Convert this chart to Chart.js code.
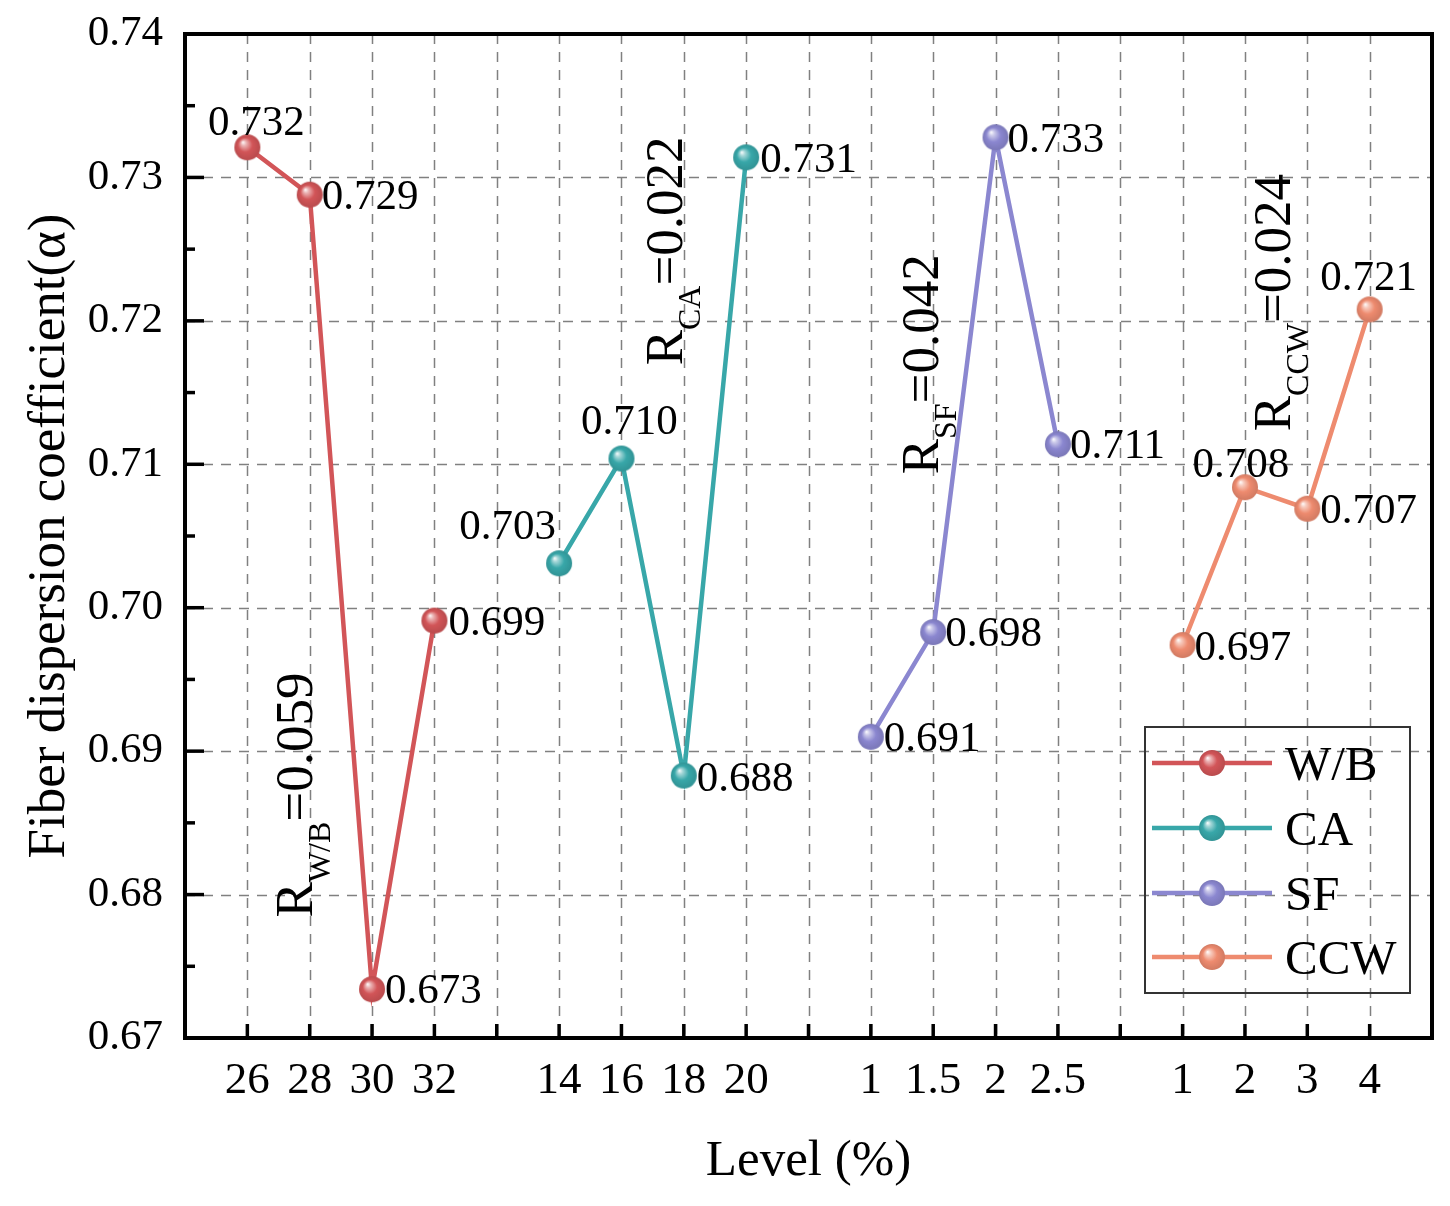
<!DOCTYPE html>
<html><head><meta charset="utf-8">
<script src="https://cdn.jsdelivr.net/npm/chart.js@4"></script>
<style>html,body{margin:0;padding:0;background:#fff}canvas{display:block}</style>
</head><body>
<canvas id="c" width="1450" height="1206"></canvas>
<script>
// ---------- data ----------
const tickLabels = ['26','28','30','32','','14','16','18','20','','1','1.5','2','2.5','','1','2','3','4'];
const seriesNames = ['W/B','CA','SF','CCW'];
const wbPositions  = [0,1,2,3];
const caPositions  = [5,6,7,8];
const sfPositions  = [10,11,12,13];
const ccwPositions = [15,16,17,18];
const wbValues  = [0.7321,0.7288,0.6734,0.6991];
const caValues  = [0.7031,0.7104,0.6883,0.7314];
const sfValues  = [0.6910,0.6983,0.7328,0.7114];
const ccwValues = [0.6974,0.7084,0.7069,0.7208];
const rangeSubs   = ['W/B','CA','SF','CCW'];
const rangeValues = ['0.059','0.022','0.042','0.024'];
const yTitle = 'Fiber dispersion coefficient(\u03b1)';
const xTitle = 'Level (%)';

// ---------- style ----------
const colors = ['#D25558','#38A7A9','#8B87D0','#EE8B6F'];
const FONT = '"Liberation Serif","Times New Roman",serif';
// label placement per point: [dx, dy, align]
const labelPlacement = [
  [[9,-12,'center'],[12,14,'left'],[13,14,'left'],[14,14,'left']],
  [[-3,-24,'right'],[8,-25,'center'],[13,15,'left'],[14,15,'left']],
  [[13,14,'left'],[12,14,'left'],[12,15,'left'],[12,14,'left']],
  [[12,15,'left'],[-4,-10,'center'],[13,14,'left'],[-1,-19,'center']]
];
// range annotation anchors (data coords: x index, y value at text start)
const rangeAnchors = [[1.037,0.6784],[6.971,0.7169],[11.077,0.7093],[16.723,0.7123]];

function hexToRgb(h){const n=parseInt(h.slice(1),16);return [n>>16&255,n>>8&255,n&255];}
function mix(c,t,f){return c.map((v,i)=>Math.round(v+(t[i]-v)*f));}
function rgb(a){return 'rgb('+a[0]+','+a[1]+','+a[2]+')';}
function makeSphere(hex,r){
  const s=Math.ceil(r*2+2);
  const cv=document.createElement('canvas');cv.width=s;cv.height=s;
  const g=cv.getContext('2d');const c=hexToRgb(hex);const cx=s/2,cy=s/2;
  const grad=g.createRadialGradient(cx-r*0.35,cy-r*0.4,0,cx,cy,r);
  grad.addColorStop(0,'#ffffff');
  grad.addColorStop(0.2,rgb(mix(c,[255,255,255],0.55)));
  grad.addColorStop(0.55,rgb(c));
  grad.addColorStop(1,rgb(mix(c,[0,0,0],0.12)));
  g.fillStyle=grad;g.beginPath();g.arc(cx,cy,r,0,Math.PI*2);g.fill();
  return cv;
}
const spheres = colors.map(c=>makeSphere(c,13));

const positions=[wbPositions,caPositions,sfPositions,ccwPositions];
const values=[wbValues,caValues,sfValues,ccwValues];
const datasets = seriesNames.map((name,i)=>({
  label:name,
  data: positions[i].map((x,j)=>({x:x,y:values[i][j]})),
  borderColor:colors[i], backgroundColor:colors[i], borderWidth:4.5,
  pointStyle:spheres[i], pointRadius:13, pointHoverRadius:13,
  tension:0, fill:false, clip:false
}));

const decor = {
  id:'decor',
  beforeDatasetsDraw(chart){
    const {ctx,chartArea:a,scales:{x,y}}=chart;
    ctx.save();
    ctx.strokeStyle='#808080';ctx.lineWidth=1.5;ctx.setLineDash([10,8]);
    for(let i=0;i<tickLabels.length;i++){
      const px=Math.round(x.getPixelForValue(i))+0.5;
      ctx.beginPath();ctx.moveTo(px,a.top);ctx.lineTo(px,a.bottom);ctx.stroke();
    }
    for(let k=1;k<7;k++){
      const py=Math.round(y.getPixelForValue(0.67+k*0.01))+0.5;
      ctx.beginPath();ctx.moveTo(a.left,py);ctx.lineTo(a.right,py);ctx.stroke();
    }
    ctx.restore();
  },
  afterDatasetsDraw(chart){
    const {ctx,chartArea:a,scales:{x,y}}=chart;
    ctx.save();
    // ticks
    ctx.strokeStyle='#000';ctx.lineWidth=3.5;ctx.setLineDash([]);
    for(let i=0;i<tickLabels.length;i++){
      const px=x.getPixelForValue(i);
      ctx.beginPath();ctx.moveTo(px,a.bottom);ctx.lineTo(px,a.bottom-14);ctx.stroke();
    }
    for(let k=0;k<=14;k++){
      const py=y.getPixelForValue(0.67+k*0.005);
      const len=(k%2===0)?19:10;
      ctx.beginPath();ctx.moveTo(a.left,py);ctx.lineTo(a.left+len,py);ctx.stroke();
    }
    // frame
    ctx.lineWidth=4;ctx.strokeRect(a.left,a.top,a.right-a.left,a.bottom-a.top);
    // data labels
    ctx.fillStyle='#000';ctx.font='43px '+FONT;ctx.textBaseline='alphabetic';
    chart.data.datasets.forEach((ds,i)=>{
      const meta=chart.getDatasetMeta(i);
      meta.data.forEach((pt,j)=>{
        const [dx,dy,al]=labelPlacement[i][j];
        ctx.textAlign=al;
        ctx.fillText(values[i][j].toFixed(3),pt.x+dx,pt.y+dy);
      });
    });
    // range annotations
    rangeAnchors.forEach((an,i)=>{
      const px=x.getPixelForValue(an[0]),py=y.getPixelForValue(an[1]);
      ctx.save();ctx.translate(px,py);ctx.rotate(-Math.PI/2);
      ctx.textAlign='left';ctx.textBaseline='alphabetic';
      ctx.font='53px '+FONT;ctx.fillText('R',0,0);
      let w=ctx.measureText('R').width;
      ctx.font='32px '+FONT;ctx.fillText(rangeSubs[i],w,18);
      w+=ctx.measureText(rangeSubs[i]).width;
      ctx.font='53px '+FONT;ctx.fillText('='+rangeValues[i],w,0);
      ctx.restore();
    });
    // legend
    ctx.lineWidth=2;ctx.strokeStyle='#333';
    ctx.strokeRect(1145,727,265,266);
    const rows=[763,828,893,957];
    seriesNames.forEach((n,i)=>{
      ctx.strokeStyle=colors[i];ctx.lineWidth=4.5;
      ctx.beginPath();ctx.moveTo(1152,rows[i]);ctx.lineTo(1272,rows[i]);ctx.stroke();
      ctx.drawImage(spheres[i],1212-spheres[i].width/2,rows[i]-spheres[i].height/2);
      ctx.fillStyle='#000';ctx.font='49px '+FONT;ctx.textAlign='left';ctx.textBaseline='alphabetic';
      ctx.fillText(n,1285,rows[i]+17);
    });
    ctx.restore();
  }
};

new Chart(document.getElementById('c'),{
  type:'line',
  data:{datasets:datasets},
  options:{
    responsive:false,animation:false,
    layout:{padding:{left:0,top:34,right:18,bottom:0}},
    plugins:{legend:{display:false},tooltip:{enabled:false}},
    scales:{
      x:{type:'linear',min:-1,max:19,
        grid:{display:false,drawTicks:false},border:{display:false},
        ticks:{stepSize:1,autoSkip:false,maxRotation:0,minRotation:0,padding:16,color:'#000',
          font:{family:FONT,size:45},
          callback:(v)=>{const k=Math.round(v);return tickLabels[k]!==undefined?tickLabels[k]:'';}},
        title:{display:true,text:xTitle,color:'#000',font:{family:FONT,size:51},padding:{top:0,bottom:14}},
        afterFit:(s)=>{s.height=168;s.paddingLeft=0;s.paddingRight=0;}
      },
      y:{type:'linear',min:0.67,max:0.74,
        grid:{display:false,drawTicks:false},border:{display:false},
        ticks:{stepSize:0.01,padding:22,color:'#000',font:{family:FONT,size:43},
          callback:(v)=>Number(v).toFixed(2)},
        title:{display:true,text:yTitle,color:'#000',font:{family:FONT,size:53},padding:{top:18,bottom:0}},
        afterFit:(s)=>{s.width=185;s.paddingTop=0;s.paddingBottom=0;}
      }
    }
  },
  plugins:[decor]
});
</script>
</body></html>
